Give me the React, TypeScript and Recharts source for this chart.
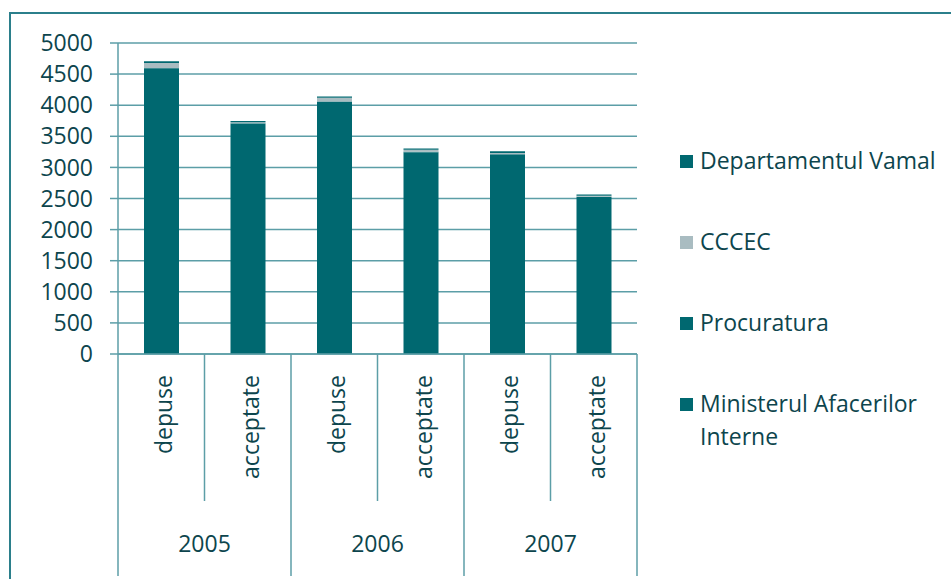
import React from 'react';
import { BarChart, Bar, XAxis, YAxis, CartesianGrid } from 'recharts';

const categories = ['depuse', 'acceptate', 'depuse', 'acceptate', 'depuse', 'acceptate'];
const years = ['2005', '2006', '2007'];
const ministerul = [4590, 3700, 4050, 3240, 3200, 2525];
const procuratura = [10, 10, 10, 10, 10, 5];
const cccec = [80, 15, 60, 35, 20, 15];
const vamal = [25, 20, 20, 20, 30, 20];
const yTicks = [0, 500, 1000, 1500, 2000, 2500, 3000, 3500, 4000, 4500, 5000];

const TEAL = '#006870';
const GRAY = '#a9bcc1';
const LINE = '#5c9ea7';
const TEXT = '#0d454d';
const FONT = '"Open Sans", sans-serif';
const FS = 23;

// bottom to top
const series = [
  { key: 'mai', name: 'Ministerul Afacerilor Interne', color: TEAL },
  { key: 'proc', name: 'Procuratura', color: TEAL },
  { key: 'cccec', name: 'CCCEC', color: GRAY },
  { key: 'vamal', name: 'Departamentul Vamal', color: TEAL },
];

const data = categories.map((cat, i) => ({
  cat,
  year: years[Math.floor(i / 2)],
  mai: ministerul[i],
  proc: procuratura[i],
  cccec: cccec[i],
  vamal: vamal[i],
}));

const CategoryTick = (props: any) => {
  const { x, y, payload, index } = props;
  const half = payload.offset || 43;
  const left = x - half;
  const isYearStart = index % 2 === 0;
  return (
    <g>
      <line x1={left} y1={y} x2={left} y2={isYearStart ? y + 222 : y + 147} stroke={LINE} strokeWidth={1.5} />
      {index === categories.length - 1 && (
        <line x1={x + half} y1={y} x2={x + half} y2={y + 222} stroke={LINE} strokeWidth={1.5} />
      )}
      <text
        transform={`translate(${x + 2}, ${y + 21}) rotate(-90)`}
        textAnchor="end"
        dominantBaseline="central"
        fill={TEXT}
        fontSize={FS}
        fontFamily={FONT}
      >
        {payload.value}
      </text>
      {index % 2 === 1 && (
        <text x={left} y={y + 189} textAnchor="middle" dominantBaseline="central" fill={TEXT} fontSize={FS} fontFamily={FONT}>
          {data[index].year}
        </text>
      )}
    </g>
  );
};

const LegendBox = () => (
  <div style={{ position: 'absolute', left: 680, top: 144, fontFamily: FONT, fontSize: FS, color: TEXT }}>
    {[...series].reverse().map((s) => (
      <div key={s.key} style={{ display: 'flex', alignItems: 'flex-start', height: 81, width: 270 }}>
        <span style={{ width: 13, height: 13, background: s.color, marginTop: 11, marginRight: 7, flexShrink: 0 }} />
        <span style={{ lineHeight: '33px', width: 245 }}>{s.name}</span>
      </div>
    ))}
  </div>
);

export default function App() {
  return (
    <div style={{ position: 'absolute', left: 0, top: 0, width: 951, height: 579, overflow: 'hidden', background: '#fff' }}>
      <div style={{ position: 'absolute', left: 9, top: 12, width: 980, height: 620, border: '2px solid #2b7f8b', boxSizing: 'border-box' }} />
      <div style={{ position: 'absolute', left: 0, top: 0 }}>
        <BarChart width={951} height={579} data={data} margin={{ top: 43, right: 314, bottom: 0, left: 0 }} barSize={35}>
          <CartesianGrid vertical={false} stroke={LINE} strokeWidth={1.5} />
          <XAxis
            dataKey="cat"
            interval={0}
            height={225}
            tickSize={0}
            tickMargin={0}
            tickLine={false}
            axisLine={{ stroke: LINE, strokeWidth: 1.5 }}
            tick={<CategoryTick />}
          />
          <YAxis
            width={118}
            domain={[0, 5000]}
            ticks={yTicks}
            interval={0}
            tickSize={8}
            tickMargin={17}
            axisLine={{ stroke: LINE, strokeWidth: 1.5 }}
            tickLine={{ stroke: LINE, strokeWidth: 1.5 }}
            tick={{ fill: TEXT, fontSize: FS, fontFamily: FONT }}
          />
          {series.map((s) => (
            <Bar key={s.key} dataKey={s.key} name={s.name} stackId="a" fill={s.color} isAnimationActive={false} />
          ))}
        </BarChart>
      </div>
      <LegendBox />
    </div>
  );
}
